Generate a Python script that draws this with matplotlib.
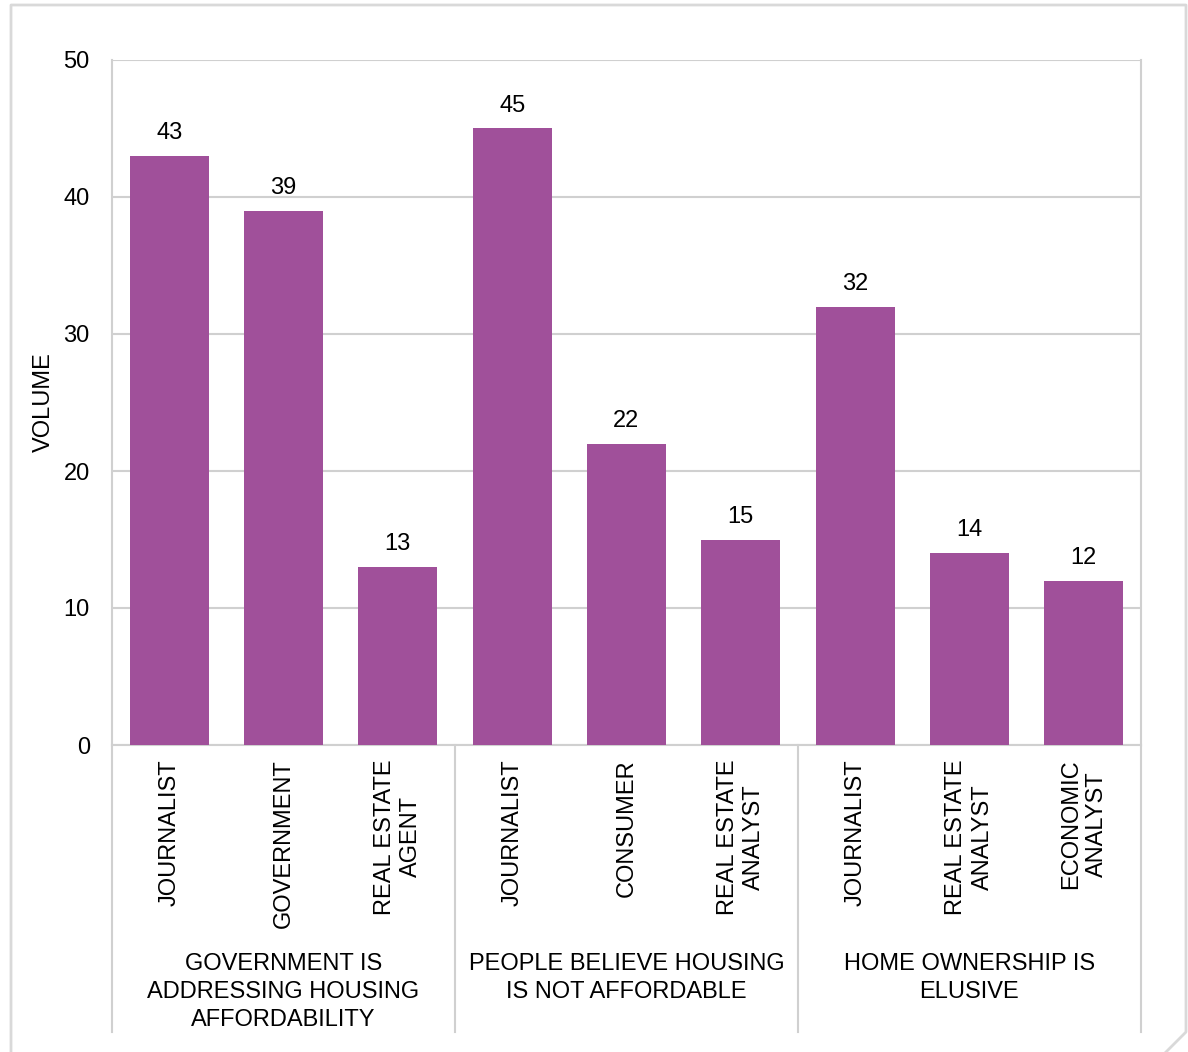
import matplotlib
matplotlib.use("Agg")
import matplotlib.pyplot as plt
from matplotlib.lines import Line2D
import matplotlib.transforms as mtransforms

plt.rcParams['font.family'] = ['Liberation Sans', 'DejaVu Sans']

categories = ["JOURNALIST", "GOVERNMENT", "REAL ESTATE\nAGENT",
              "JOURNALIST", "CONSUMER", "REAL ESTATE\nANALYST",
              "JOURNALIST", "REAL ESTATE\nANALYST", "ECONOMIC\nANALYST"]
values = [43, 39, 13, 45, 22, 15, 32, 14, 12]
groups = ["GOVERNMENT IS\nADDRESSING HOUSING\nAFFORDABILITY",
          "PEOPLE BELIEVE HOUSING\nIS NOT AFFORDABLE",
          "HOME OWNERSHIP IS\nELUSIVE"]
group_sizes = [3, 3, 3]
yticks = [0, 10, 20, 30, 40, 50]

W, H = 1188, 1052
fig = plt.figure(figsize=(W / 100, H / 100), dpi=100)
ax = fig.add_axes([112 / W, 1 - 745 / H, (1141 - 112) / W, (745 - 60) / H])

bar_color = '#A0509A'
grid_color = '#D0D0D0'
fs = 17

x = list(range(len(values)))
bars = ax.bar(x, values, width=0.69, color=bar_color, zorder=3)
for xi, v in zip(x, values):
    ax.annotate(str(v), (xi, v), xytext=(0, 8.5), textcoords='offset points',
                ha='center', va='bottom', fontsize=fs, color='black')

ax.set_xlim(-0.5, len(values) - 0.5)
ax.set_ylim(0, 50)
ax.set_yticks(yticks)
ax.set_yticklabels([str(t) for t in yticks], fontsize=fs)
ax.yaxis.grid(True, color=grid_color, linewidth=1.5, zorder=0)
ax.tick_params(axis='y', length=0, pad=16)
ax.set_xticks(x)
ax.set_xticklabels(categories, rotation=90, fontsize=fs, multialignment='center',
                   linespacing=1.25)
ax.tick_params(axis='x', length=0, pad=10)
ax.set_ylabel("VOLUME", fontsize=fs, labelpad=6)

for s in ax.spines.values():
    s.set_color(grid_color)
    s.set_linewidth(1.5)
ax.spines['top'].set_visible(False)

trans = mtransforms.blended_transform_factory(ax.transData, ax.transAxes)
ybot = -(1032 - 745) / (745 - 60)
bounds = [-0.5]
for g in group_sizes:
    bounds.append(bounds[-1] + g)
for b in bounds:
    ax.add_line(Line2D([b, b], [0, ybot], transform=trans, color=grid_color,
                       linewidth=1.5, clip_on=False))
for i, g in enumerate(groups):
    cx = (bounds[i] + bounds[i + 1]) / 2
    ax.text(cx, -(953 - 745) / (745 - 60), g, transform=trans, ha='center', va='top',
            fontsize=fs, multialignment='center', linespacing=1.34)

# outer border with folded corner
pts = [(11, 1060), (11, 5), (1186, 5), (1186, 1032), (1164, 1054)]
fig.add_artist(Line2D([p[0] / W for p in pts], [1 - p[1] / H for p in pts],
                      transform=fig.transFigure, color='#D9D9D9', linewidth=2))

fig.savefig("out.png", dpi=100)
